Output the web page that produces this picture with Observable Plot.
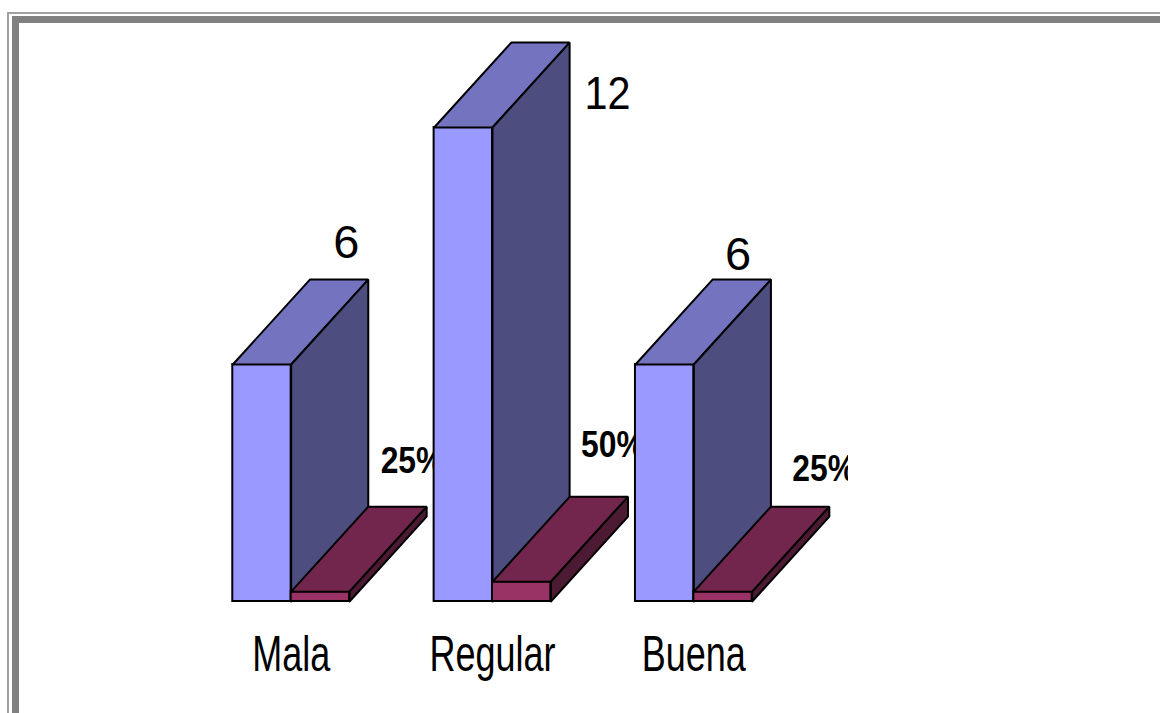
<!DOCTYPE html>
<html><head><meta charset="utf-8">
<script src="https://cdn.jsdelivr.net/npm/d3@7"></script>
<script src="https://cdn.jsdelivr.net/npm/@observablehq/plot@0.6"></script>
<style>
html,body{margin:0;padding:0;background:#fff;overflow:hidden;}
#wrap{position:relative;width:1160px;height:713px;overflow:hidden;}
.f1{position:absolute;left:7px;top:12px;width:2000px;height:2000px;border-left:2px solid #a0a0a0;border-top:2px solid #a0a0a0;}
.f2{position:absolute;left:12px;top:16px;width:2000px;height:2000px;border-left:7px solid #808080;border-top:7px solid #808080;}
#chart{position:absolute;left:0;top:0;}
</style></head><body>
<div id="wrap"><div class="f1"></div><div class="f2"></div><div id="chart"></div></div>
<script>
// ---- data ----
const categories = ["Mala", "Regular", "Buena"];
const counts = [6, 12, 6];
const shares = [0.25, 0.5, 0.25];
const countLabels = ["6", "12", "6"];
const shareLabels = ["25%", "50%", "25%"];

// ---- layout (pseudo-3D projection in data units) ----
const BAR_W = 0.29, DX = 0.383, DY = 2.15;
const valueNudge = [[-22, -22], [38, 66], [-33, -10]];
const shareNudge = [[-46, -34], [-47, -40], [-37, -26]];
const colors = {
  s1: {front: "#9999ff", top: "#7373bf", side: "#4d4d80"},
  s2: {front: "#993366", top: "#73264d", side: "#4d1a33"}
};

function faces(values, offset) {
  const front = [], top = [], side = [];
  values.forEach((v, i) => {
    const x1 = i + offset, x2 = x1 + BAR_W;
    front.push({x1, x2, y1: 0, y2: v});
    [[x1, v], [x2, v], [x2 + DX, v + DY], [x1 + DX, v + DY], [x1, v]]
      .forEach(([x, y]) => top.push({id: i, x, y}));
    [[x2, 0], [x2 + DX, DY], [x2 + DX, v + DY], [x2, v], [x2, 0]]
      .forEach(([x, y]) => side.push({id: i, x, y}));
  });
  return {front, top, side};
}
const f1 = faces(counts, -BAR_W);
const f2 = faces(shares, 0);

function barMarks(f, c) {
  const st = {stroke: "#000", strokeWidth: 2, strokeLinejoin: "miter"};
  return [
    Plot.rect(f.front, {x1: "x1", x2: "x2", y1: "y1", y2: "y2", fill: c.front, ...st}),
    Plot.line(f.top, {x: "x", y: "y", z: "id", fill: c.top, curve: "linear", ...st}),
    Plot.line(f.side, {x: "x", y: "y", z: "id", fill: c.side, curve: "linear", ...st})
  ];
}

const valueTextMarks = countLabels.map((t, i) => Plot.text([{t, x: i + DX, y: counts[i] + DY}], {
  x: "x", y: "y", text: "t", dx: valueNudge[i][0], dy: valueNudge[i][1],
  fontSize: 47, textAnchor: "middle", lineAnchor: "bottom", fill: "#000"
}));
const shareTextMarks = shareLabels.map((t, i) => Plot.text([{t, x: i + BAR_W + DX, y: shares[i] + DY}], {
  x: "x", y: "y", text: "t", dx: shareNudge[i][0], dy: shareNudge[i][1],
  fontSize: 37, fontWeight: "bold", textAnchor: "start", lineAnchor: "bottom", fill: "#000"
}));

const plot = Plot.plot({
  width: 1160, height: 713,
  marginLeft: 190, marginRight: 366, marginTop: 127, marginBottom: 112,
  x: {domain: [-0.5, 2.5], axis: null},
  y: {domain: [0, 12], axis: null},
  style: {fontFamily: "'Liberation Sans', Arial, sans-serif", background: "transparent", overflow: "visible", color: "#000"},
  marks: [
    ...valueTextMarks,
    ...shareTextMarks,
    ...barMarks(f1, colors.s1),
    ...barMarks(f2, colors.s2),
    Plot.text(categories.map((c, i) => ({c, x: i})), {
      x: "x", y: () => 0, text: "c", dy: 69, fontSize: 50,
      textAnchor: "middle", lineAnchor: "bottom", fill: "#000"
    })
  ]
});
document.getElementById("chart").appendChild(plot);

// horizontal compression of the labels, like the original rendering
function squeeze(set, factor) {
  d3.select(plot).selectAll("text").each(function () {
    if (!set.includes(this.textContent)) return;
    const L = this.getComputedTextLength();
    this.setAttribute("textLength", (L * factor).toFixed(1));
    this.setAttribute("lengthAdjust", "spacingAndGlyphs");
  });
}
squeeze(categories, 0.72);
squeeze(shareLabels, 0.86);
squeeze(["12"], 0.88);

// the right-most percentage label is cut off at the plot-area edge:
// wrap the percentage label groups in an untransformed clipped group
const ns = "http://www.w3.org/2000/svg";
const defs = document.createElementNS(ns, "defs");
const cp = document.createElementNS(ns, "clipPath");
cp.setAttribute("id", "shareclip");
const r = document.createElementNS(ns, "rect");
r.setAttribute("x", 0); r.setAttribute("y", 0);
r.setAttribute("width", 848); r.setAttribute("height", 713);
cp.appendChild(r); defs.appendChild(cp); plot.insertBefore(defs, plot.firstChild);
d3.select(plot).selectAll("text").filter(function () { return shareLabels.includes(this.textContent); })
  .each(function () {
    const g = this.parentNode;
    const wrap = document.createElementNS(ns, "g");
    wrap.setAttribute("clip-path", "url(#shareclip)");
    g.parentNode.insertBefore(wrap, g);
    wrap.appendChild(g);
  });
</script>
</body></html>
